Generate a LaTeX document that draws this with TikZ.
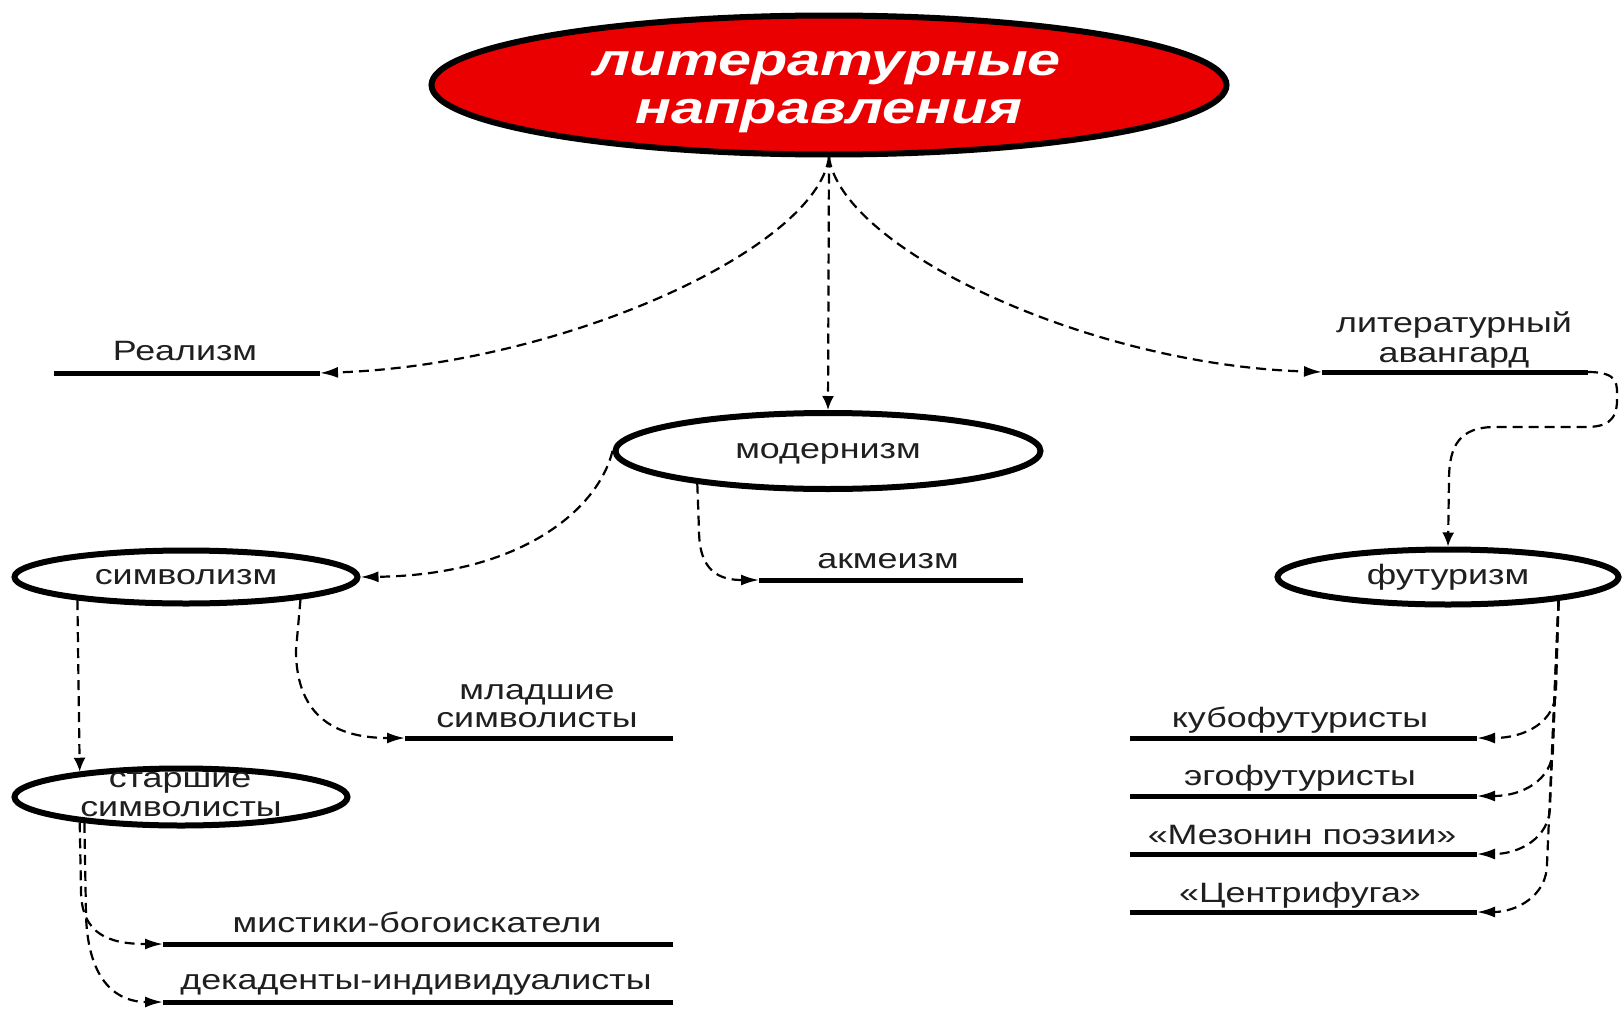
\documentclass[tikz,border=0pt]{standalone}
\usepackage{fontspec}
\setmainfont{Liberation Sans}
\newfontfamily\bodyfont[FakeStretch=1.28]{Liberation Sans}
\newfontfamily\titlefont[FakeStretch=1.32]{Liberation Sans}
\usetikzlibrary{shapes.geometric,arrows.meta}
\definecolor{tred}{RGB}{234,0,0}
\begin{document}
\begin{tikzpicture}[x=1pt,y=-1pt,
  ell/.style={ellipse, draw=black, line width=6pt, inner sep=0pt, fill=white,
    text height=14.5pt, text depth=0pt, font=\bodyfont\fontsize{28}{32}\selectfont, text=black!88},
  bar/.style={line width=5pt},
  conn/.style={line width=2.2pt, dash pattern=on 10pt off 6pt, -{Latex[length=18pt,width=11pt]}},
  vconn/.style={line width=2.2pt, dash pattern=on 10pt off 6pt, -{Latex[length=14pt,width=12pt]}},
  lbl/.style={anchor=base, inner sep=0pt, font=\bodyfont\fontsize{28}{32}\selectfont, text=black!88},
  ttl/.style={anchor=base, inner sep=0pt, font=\titlefont\bfseries\itshape\fontsize{45}{50}\selectfont, text=white}]
\useasboundingbox (0,0) rectangle (1623,1009);

% ellipses
\node[ell, fill=tred, minimum width=795pt, minimum height=139pt] (top) at (829,85) {};
\node[ttl] (t1) at (827,75) {литературные};
\node[ttl] (t2) at (829,123) {направления};

\node[ell, minimum width=425pt, minimum height=76pt] (mod) at (828,451) {модернизм};
\node[ell, minimum width=343pt, minimum height=53pt] (sym) at (186,577) {символизм};
\node[ell, minimum width=333pt, minimum height=57pt] (star) at (181,797) {};
\node[lbl] (star1) at (180,787) {старшие};
\node[lbl] (star2) at (181,816) {символисты};
\node[ell, minimum width=341pt, minimum height=55pt] (fut) at (1448,577) {футуризм};

% bars
\coordinate (rA) at (54,373);   \coordinate (rB) at (320,373);
\coordinate (avA) at (1322,372); \coordinate (avB) at (1588,372);
\coordinate (akA) at (759,580);  \coordinate (akB) at (1023,580);
\coordinate (mlA) at (405,738);  \coordinate (mlB) at (673,738);
\coordinate (miA) at (163,944);  \coordinate (miB) at (673,944);
\coordinate (deA) at (163,1002); \coordinate (deB) at (673,1002);
\coordinate (kuA) at (1130,738); \coordinate (kuB) at (1477,738);
\coordinate (egA) at (1130,796); \coordinate (egB) at (1477,796);
\coordinate (meA) at (1130,854); \coordinate (meB) at (1477,854);
\coordinate (ceA) at (1130,912); \coordinate (ceB) at (1477,912);

\foreach \a/\b in {rA/rB,avA/avB,akA/akB,mlA/mlB,miA/miB,deA/deB,kuA/kuB,egA/egB,meA/meB,ceA/ceB}
  \draw[bar] (\a) -- (\b);

% labels
\node[lbl] (lreal) at (185,360) {Реализм};
\node[lbl] (lav1) at (1454,332) {литературный};
\node[lbl] (lav2) at (1454,362) {авангард};
\node[lbl] (lak) at (888,568) {акмеизм};
\node[lbl] (lml1) at (537,699) {младшие};
\node[lbl] (lml2) at (537,727) {символисты};
\node[lbl] (lmi) at (417,932) {мистики-богоискатели};
\node[lbl] (lde) at (416,989) {декаденты-индивидуалисты};
\node[lbl] (lku) at (1300,727) {кубофутуристы};
\node[lbl] (leg) at (1300,785) {эгофутуристы};
\node[lbl] (lme) at (1302,844) {«Мезонин поэзии»};
\node[lbl] (lce) at (1300,902) {«Центрифуга»};

% connectors
\draw[vconn] (top.south) -- (mod.north);
\draw[conn] (top.south) .. controls (815,250) and (560,365) .. (rB);
\draw[conn] (top.south) .. controls (843,250) and (1090,365) .. (avA);
\draw[vconn] (avB) .. controls (1620,372) and (1617,385) .. (1617,400)
  .. controls (1617,422) and (1605,427) .. (1585,427) -- (1495,427)
  .. controls (1460,427) and (1449,445) .. (1449,480) -- (fut.north);
\draw[conn] (mod.west) .. controls (598,510) and (520,575) .. (sym.east);
\draw[conn] (mod.194) -- (699,530) .. controls (699,572) and (720,580) .. (akA);
\draw[vconn] (sym.192) -- (star.166);
\draw[conn] (sym.349) -- (296,650) .. controls (296,720) and (340,738) .. (mlA);
\draw[conn] (star.194) -- (81,890) .. controls (81,935) and (110,944) .. (miA);
\draw[conn] (star.195) -- (86,915) .. controls (88,985) and (120,1002) .. (deA);
\draw[conn] (fut.348) -- (1556,690) .. controls (1556,722) and (1525,738) .. (kuB);
\draw[conn] (fut.348) -- (1553,748) .. controls (1553,780) and (1522,796) .. (egB);
\draw[conn] (fut.348) -- (1550,806) .. controls (1550,838) and (1519,854) .. (meB);
\draw[conn] (fut.348) -- (1547,864) .. controls (1547,896) and (1516,912) .. (ceB);
\end{tikzpicture}
\end{document}
